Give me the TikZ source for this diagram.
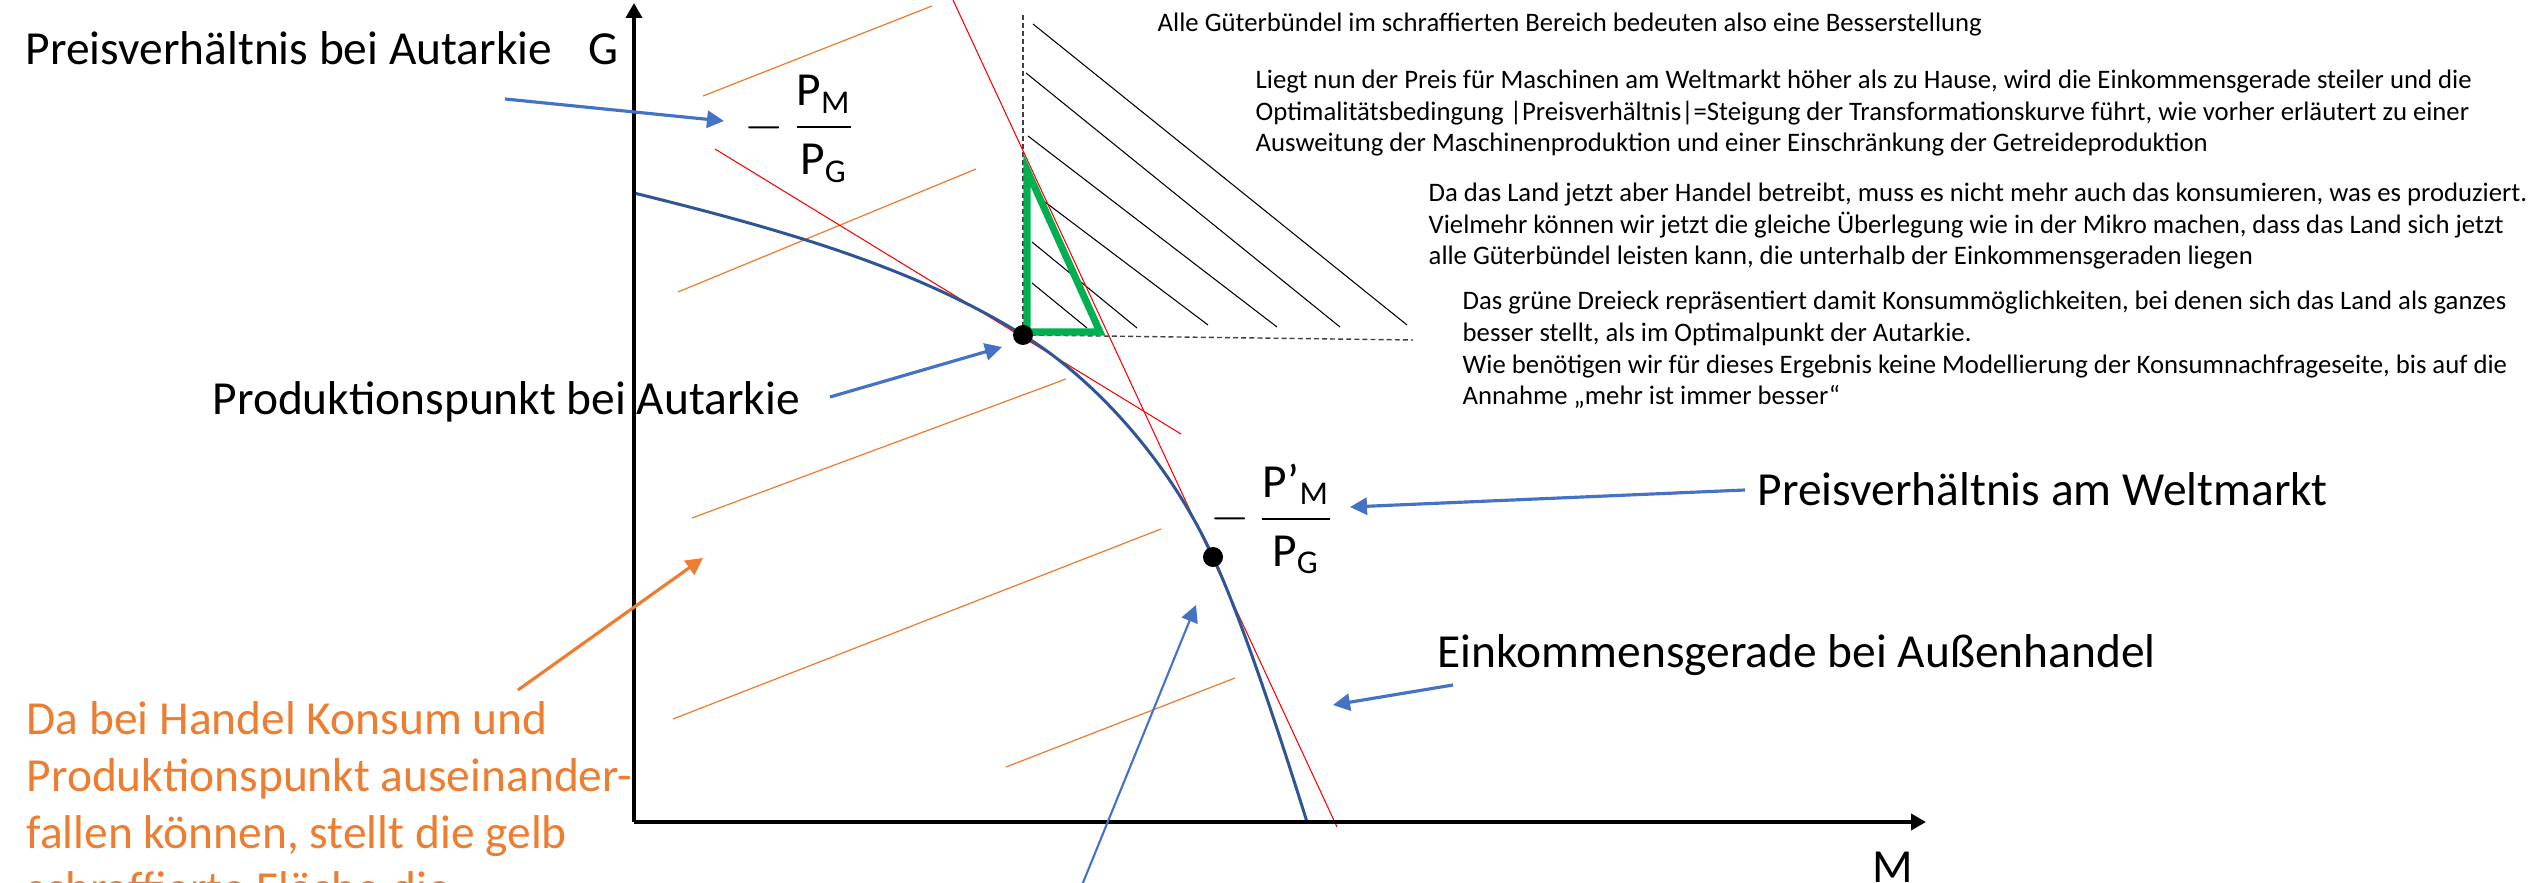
\documentclass[tikz,border=0pt]{standalone}
\usepackage{amsmath}
\usepackage{fontspec}
\setmainfont{Carlito}
\usetikzlibrary{arrows.meta, positioning, calc}
\definecolor{arrowblue}{RGB}{68,114,196}
\definecolor{curveblue}{RGB}{47,85,151}
\definecolor{softorange}{RGB}{237,125,49}
\definecolor{softgreen}{RGB}{0,176,80}

\begin{document}
\begin{tikzpicture}[x=0.1mm, y=-0.1mm,
  biglabel/.style={font=\fontsize{13.5}{16.2}\selectfont, anchor=base west, inner sep=0pt},
  note/.style={font=\fontsize{7.6}{9.1}\selectfont, anchor=base west, align=left, inner sep=0pt},
  pointer/.style={arrowblue, line width=0.9pt, -{Triangle[length=1.7mm, width=1.7mm]}},
  axis/.style={line width=1.3pt, -{Triangle[length=1.5mm, width=1.6mm]}},
  guide/.style={black!75, line width=0.4pt, dash pattern=on 1.4pt off 0.9pt}]
  \useasboundingbox (0,0) rectangle (2537,883);

  % Points
  \coordinate (origin) at (634,822);
  \coordinate (autpt) at (1023,335);
  \coordinate (tradept) at (1213,557);

  % Orange hatching
  \draw[softorange, line width=0.35pt] (703,96) -- (932,6);
  \draw[softorange, line width=0.35pt] (678,292) -- (976,169);
  \draw[softorange, line width=0.35pt] (692,518) -- (1066,379);
  \draw[softorange, line width=0.35pt] (673,719) -- (1161,529);
  \draw[softorange, line width=0.35pt] (1006,767) -- (1235,678);

  % Black hatching
  \draw[line width=0.3pt] (1033,24) -- (1407,325);
  \draw[line width=0.3pt] (1026,73) -- (1340,327);
  \draw[line width=0.3pt] (1028,136) -- (1277,327);
  \draw[line width=0.3pt] (1045,202) -- (1208,325);
  \draw[line width=0.3pt] (1032,242) -- (1137,328);
  \draw[line width=0.3pt] (1032,283) -- (1087,328);

  % Guides
  \draw[guide] (autpt) -- (1023,12);
  \draw[guide] (autpt) -- (1413,340);

  % Price lines
  \draw[red, line width=0.3pt] (715,149) -- (1181,434);
  \draw[red, line width=0.3pt] (953,0) -- (1337,827);

  % Transformation curve
  \draw[curveblue, line width=0.85pt] (634,193)
    .. controls (784,230) and (913,267) .. (autpt)
    .. controls (1093,378) and (1168,459) .. (tradept)
    .. controls (1243,622) and (1282,742) .. (1307,822);

  % Green triangle
  \draw[softgreen, line width=2pt, line join=miter] (1027,170) -- (1027,332) -- (1100,332) -- cycle;

  % Dots
  \fill (autpt) circle (10);
  \fill (tradept) circle (10);

  % Axes
  \draw[axis] (origin) -- (634,3);
  \draw[axis] (origin) -- (1926,822);
  \node[biglabel] (glabel) at (588,65) {G};
  \node[biglabel] (mlabel) at (1872,882) {M};

  % Ratios
  \node[biglabel, anchor=center] (ratioaut) at (800,129)
    {$-\,\dfrac{\text{P}_\text{M}}{\text{P}_\text{G}}$};
  \node[biglabel, anchor=center] (ratiowelt) at (1272,519)
    {$-\,\dfrac{\text{P'}_\text{M}}{\text{P}_\text{G}}$};

  % Labels
  \node[biglabel] (autlabel) at (25,65) {Preisverhältnis bei Autarkie};
  \node[biglabel] (prodlabel) at (212,415) {Produktionspunkt bei Autarkie};
  \node[biglabel] (weltlabel) at (1757,506) {Preisverhältnis am Weltmarkt};
  \node[biglabel] (einklabel) at (1437,668) {Einkommensgerade bei Außenhandel};
  \node[biglabel, align=left, text=softorange] (handellabel) at (26,905)
    {Da bei Handel Konsum und\\Produktionspunkt auseinander-\\fallen können, stellt die gelb\\schraffierte Fläche die};

  % Notes (base = last line)
  \node[note] (note1) at (1157,32) {Alle Güterbündel im schraffierten Bereich bedeuten also eine Besserstellung};
  \node[note] (note2) at (1255,152)
    {Liegt nun der Preis für Maschinen am Weltmarkt höher als zu Hause, wird die Einkommensgerade steiler und die\\
     Optimalitätsbedingung |Preisverhältnis|=Steigung der Transformationskurve führt, wie vorher erläutert zu einer\\
     Ausweitung der Maschinenproduktion und einer Einschränkung der Getreideproduktion};
  \node[note] (note3) at (1428,265)
    {Da das Land jetzt aber Handel betreibt, muss es nicht mehr auch das konsumieren, was es produziert.\\
     Vielmehr können wir jetzt die gleiche Überlegung wie in der Mikro machen, dass das Land sich jetzt\\
     alle Güterbündel leisten kann, die unterhalb der Einkommensgeraden liegen};
  \node[note] (note4) at (1462,405)
    {Das grüne Dreieck repräsentiert damit Konsummöglichkeiten, bei denen sich das Land als ganzes\\
     besser stellt, als im Optimalpunkt der Autarkie.\\
     Wie benötigen wir für dieses Ergebnis keine Modellierung der Konsumnachfrageseite, bis auf die\\
     Annahme „mehr ist immer besser“};

  % Pointers
  \coordinate (autfrom) at (505,99);
  \coordinate (autto) at (724,121);
  \coordinate (prodfrom) at (830,397);
  \coordinate (prodto) at (1002,347);
  \coordinate (weltfrom) at (1745,490);
  \coordinate (weltto) at (1350,507);
  \coordinate (einkfrom) at (1453,685);
  \coordinate (einkto) at (1333,705);
  \coordinate (lowfrom) at (1078,895);
  \coordinate (lowto) at (1196,605);
  \coordinate (handelfrom) at (518,690);
  \coordinate (handelto) at (703,558);
  \draw[pointer] (autfrom) -- (autto);
  \draw[pointer] (prodfrom) -- (prodto);
  \draw[pointer] (weltfrom) -- (weltto);
  \draw[pointer] (einkfrom) -- (einkto);
  \draw[pointer, line width=0.6pt] (lowfrom) -- (lowto);
  \draw[pointer, softorange] (handelfrom) -- (handelto);
\end{tikzpicture}
\end{document}
